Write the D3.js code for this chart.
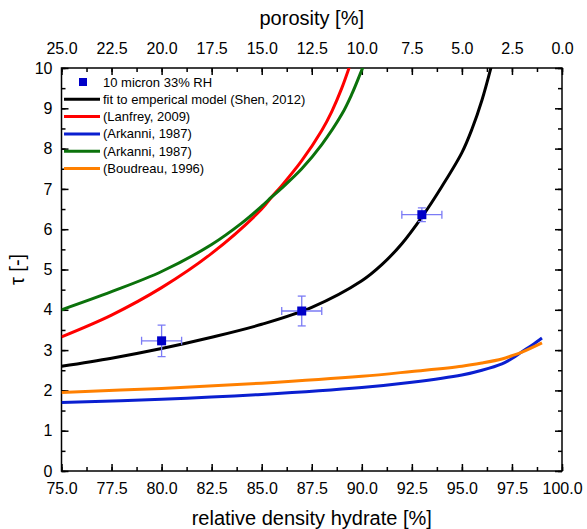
<!DOCTYPE html>
<html>
<head>
<meta charset="utf-8">
<script src="https://cdn.jsdelivr.net/npm/d3@7"></script>
<style>
  body { margin: 0; background: #fff; }
  svg text { font-family: "Liberation Sans", Arial, sans-serif; fill: #000; }
</style>
</head>
<body>
<div id="chart"></div>
<script>
// measured points (10 micron, 33% RH)
var pointX = [80, 87, 93];
var pointY = [3.23, 3.97, 6.36];
var pointErrX = [1.0, 1.0, 1.0];
var pointErrY = [0.39, 0.37, 0.17];

// fit to emperical model (Shen, 2012)
var shenX = [75, 77.5, 80, 82.5, 85, 87.5, 90, 91, 92, 93, 94, 95, 95.5, 96, 96.5];
var shenY = [2.6, 2.8, 3.04, 3.32, 3.64, 4.06, 4.72, 5.12, 5.64, 6.3, 7.06, 7.9, 8.48, 9.2, 10.1];

// (Lanfrey, 2009)
var lanfreyX = [75, 77.5, 80, 82.5, 85, 85.5, 86, 87, 88, 88.5, 89, 89.5];
var lanfreyY = [3.33, 3.87, 4.55, 5.4, 6.5, 6.8, 7.08, 7.7, 8.45, 8.92, 9.5, 10.2];

// (Arkanni, 1987) blue
var arkBlueX = [75, 80, 85, 90, 92.5, 95, 96, 97, 97.5, 98, 98.5, 99];
var arkBlueY = [1.7, 1.78, 1.9, 2.07, 2.2, 2.38, 2.5, 2.66, 2.79, 2.96, 3.12, 3.3];

// (Arkanni, 1987) green
var arkGreenX = [75, 77.5, 80, 82.5, 84, 85, 85.5, 86, 87, 88, 89, 89.5, 90, 90.3];
var arkGreenY = [4.0, 4.45, 4.95, 5.62, 6.15, 6.57, 6.8, 7.02, 7.5, 8.1, 8.85, 9.35, 9.95, 10.3];

// (Boudreau, 1996)
var boudX = [75, 80, 85, 90, 92.5, 95, 96, 97, 97.5, 98, 99];
var boudY = [1.95, 2.05, 2.18, 2.35, 2.47, 2.6, 2.68, 2.78, 2.86, 2.95, 3.18];

var xTicks = [75, 77.5, 80, 82.5, 85, 87.5, 90, 92.5, 95, 97.5, 100];
var topTicks = [25, 22.5, 20, 17.5, 15, 12.5, 10, 7.5, 5, 2.5, 0];
var yTicks = [0, 1, 2, 3, 4, 5, 6, 7, 8, 9, 10];

var series = [
  { name: "fit to emperical model (Shen, 2012)", xs: shenX, ys: shenY, color: "#000000" },
  { name: "(Lanfrey, 2009)", xs: lanfreyX, ys: lanfreyY, color: "#ff0000" },
  { name: "(Arkanni, 1987)", xs: arkBlueX, ys: arkBlueY, color: "#0a1fd0" },
  { name: "(Arkanni, 1987)", xs: arkGreenX, ys: arkGreenY, color: "#0b720b" },
  { name: "(Boudreau, 1996)", xs: boudX, ys: boudY, color: "#ff8000" }
];

var width = 587, height = 529;
var pLeft = 61.5, pRight = 562, pTop = 68, pBottom = 471;

var svg = d3.select("#chart").append("svg")
  .attr("width", width)
  .attr("height", height);

var x = d3.scaleLinear().domain([75, 100]).range([pLeft, pRight]);
var xTop = d3.scaleLinear().domain([25, 0]).range([pLeft, pRight]);
var y = d3.scaleLinear().domain([0, 10]).range([pBottom, pTop]);

svg.append("defs").append("clipPath").attr("id", "plotclip")
  .append("rect")
  .attr("x", pLeft).attr("y", pTop)
  .attr("width", pRight - pLeft).attr("height", pBottom - pTop);

// minor ticks
var minorX = d3.range(75, 100.01, 1.25);
var minorTop = d3.range(0, 25.01, 1.25);
var minorY = d3.range(0, 10.01, 0.5);

function styleAxis(g) {
  g.selectAll("path.domain").remove();
  g.selectAll("line").attr("stroke", "#000").attr("stroke-width", 1.5);
  g.selectAll("text").attr("font-size", 16).attr("font-family", "Liberation Sans, Arial, sans-serif");
}

// bottom
svg.append("g").attr("transform", "translate(0," + pBottom + ")")
  .call(d3.axisBottom(x).tickValues(minorX).tickSize(-4).tickFormat(""))
  .call(styleAxis);
svg.append("g").attr("transform", "translate(0," + pBottom + ")")
  .call(d3.axisBottom(x).tickValues(xTicks).tickSize(-7).tickPadding(12).tickFormat(d3.format(".1f")))
  .call(styleAxis);

// top
svg.append("g").attr("transform", "translate(0," + pTop + ")")
  .call(d3.axisTop(xTop).tickValues(minorTop).tickSize(-4).tickFormat(""))
  .call(styleAxis);
svg.append("g").attr("transform", "translate(0," + pTop + ")")
  .call(d3.axisTop(xTop).tickValues(topTicks).tickSize(-7).tickPadding(14).tickFormat(d3.format(".1f")))
  .call(styleAxis);

// left
svg.append("g").attr("transform", "translate(" + pLeft + ",0)")
  .call(d3.axisLeft(y).tickValues(minorY).tickSize(-4).tickFormat(""))
  .call(styleAxis);
svg.append("g").attr("transform", "translate(" + pLeft + ",0)")
  .call(d3.axisLeft(y).tickValues(yTicks).tickSize(-7).tickPadding(9).tickFormat(d3.format("d")))
  .call(styleAxis);

// right
svg.append("g").attr("transform", "translate(" + pRight + ",0)")
  .call(d3.axisRight(y).tickValues(minorY).tickSize(-4).tickFormat(""))
  .call(styleAxis);
svg.append("g").attr("transform", "translate(" + pRight + ",0)")
  .call(d3.axisRight(y).tickValues(yTicks).tickSize(-7).tickFormat(""))
  .call(styleAxis);

// frame
svg.append("rect")
  .attr("x", pLeft).attr("y", pTop)
  .attr("width", pRight - pLeft).attr("height", pBottom - pTop)
  .attr("fill", "none")
  .attr("stroke", "#000")
  .attr("stroke-width", 1.5);

// curves
var line = d3.line()
  .x(d => x(d[0]))
  .y(d => y(d[1]))
  .curve(d3.curveCatmullRom.alpha(0.5));

var plot = svg.append("g").attr("clip-path", "url(#plotclip)");

// draw order so black sits on top of the colored ones
[2, 4, 1, 3, 0].forEach(function (i) {
  var s = series[i];
  plot.append("path")
    .datum(s.xs.map((v, j) => [v, s.ys[j]]))
    .attr("d", line)
    .attr("fill", "none")
    .attr("stroke", s.color)
    .attr("stroke-width", 3);
});

// error bars
var pts = pointX.map((v, i) => ({ x: v, y: pointY[i], ex: pointErrX[i], ey: pointErrY[i] }));
var errColor = "#7b7bf5";
var eb = plot.selectAll(".err").data(pts).enter().append("g").attr("class", "err")
  .attr("stroke", errColor).attr("stroke-width", 1.3);
eb.append("line")
  .attr("x1", d => x(d.x - d.ex)).attr("x2", d => x(d.x + d.ex))
  .attr("y1", d => y(d.y)).attr("y2", d => y(d.y));
eb.append("line")
  .attr("x1", d => x(d.x)).attr("x2", d => x(d.x))
  .attr("y1", d => y(d.y - d.ey)).attr("y2", d => y(d.y + d.ey));
// caps
eb.append("line")
  .attr("x1", d => x(d.x - d.ex)).attr("x2", d => x(d.x - d.ex))
  .attr("y1", d => y(d.y) - 4).attr("y2", d => y(d.y) + 4);
eb.append("line")
  .attr("x1", d => x(d.x + d.ex)).attr("x2", d => x(d.x + d.ex))
  .attr("y1", d => y(d.y) - 4).attr("y2", d => y(d.y) + 4);
eb.append("line")
  .attr("x1", d => x(d.x) - 4).attr("x2", d => x(d.x) + 4)
  .attr("y1", d => y(d.y + d.ey)).attr("y2", d => y(d.y + d.ey));
eb.append("line")
  .attr("x1", d => x(d.x) - 4).attr("x2", d => x(d.x) + 4)
  .attr("y1", d => y(d.y - d.ey)).attr("y2", d => y(d.y - d.ey));

plot.selectAll(".pt").data(pts).enter().append("rect")
  .attr("class", "pt")
  .attr("x", d => x(d.x) - 4.5)
  .attr("y", d => y(d.y) - 4.5)
  .attr("width", 9).attr("height", 9)
  .attr("fill", "#0000c8");

// legend
var lg = svg.append("g").attr("font-size", 13);
var rowH = 17.3, ly0 = 82;
lg.append("rect")
  .attr("x", 79).attr("y", ly0 - 4).attr("width", 8).attr("height", 8)
  .attr("fill", "#0000c8");
lg.append("text").attr("x", 103).attr("y", ly0).attr("dy", "0.35em")
  .attr("font-size", 13).text("10 micron 33% RH");
series.forEach(function (s, i) {
  var yy = ly0 + rowH * (i + 1);
  lg.append("line")
    .attr("x1", 64).attr("x2", 100)
    .attr("y1", yy).attr("y2", yy)
    .attr("stroke", s.color).attr("stroke-width", 3);
  lg.append("text").attr("x", 103).attr("y", yy).attr("dy", "0.35em")
    .attr("font-size", 13).text(s.name);
});

// axis titles
svg.append("text")
  .attr("x", (pLeft + pRight) / 2).attr("y", 525)
  .attr("text-anchor", "middle").attr("font-size", 20)
  .text("relative density hydrate [%]");
svg.append("text")
  .attr("x", (pLeft + pRight) / 2).attr("y", 25)
  .attr("text-anchor", "middle").attr("font-size", 20)
  .text("porosity [%]");
svg.append("text")
  .attr("transform", "translate(24," + ((pTop + pBottom) / 2) + ") rotate(-90)")
  .attr("text-anchor", "middle").attr("font-size", 20)
  .text("τ [-]");
</script>
</body>
</html>
